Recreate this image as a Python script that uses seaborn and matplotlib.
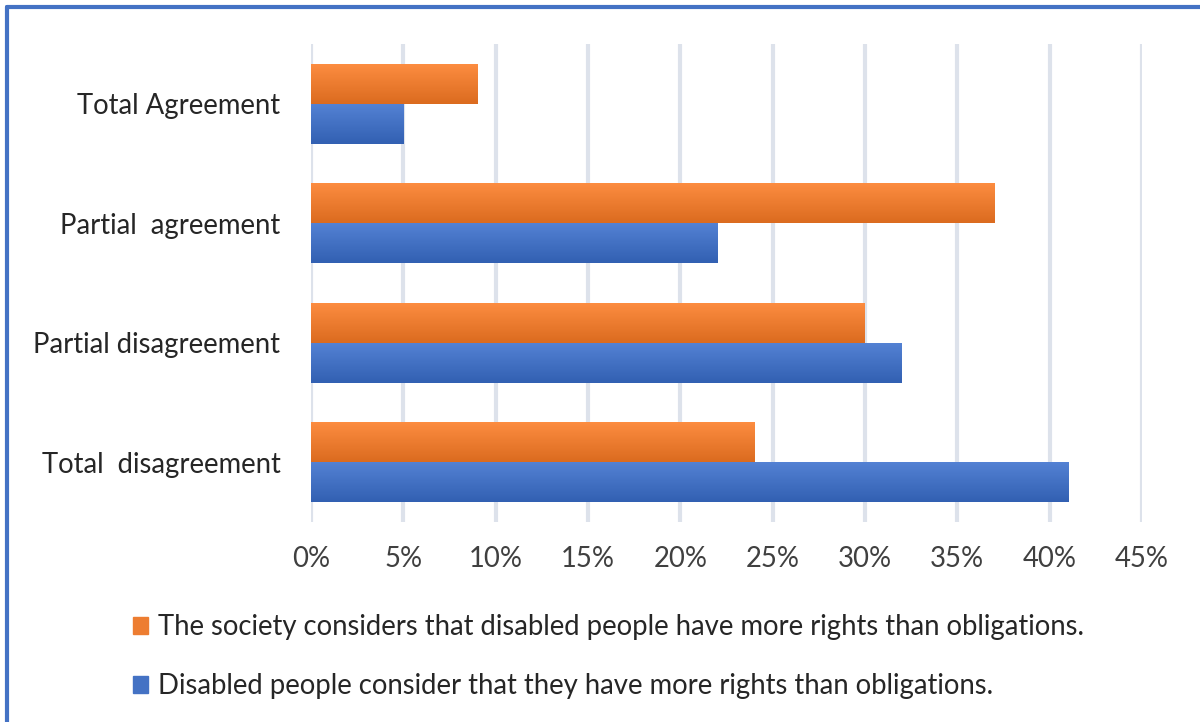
import matplotlib
matplotlib.use("Agg")
import matplotlib.pyplot as plt
from matplotlib.lines import Line2D
from matplotlib.patches import Rectangle
import seaborn as sns
import pandas as pd
import numpy as np

categories = ["Total Agreement", "Partial  agreement", "Partial disagreement", "Total  disagreement"]
series_names = [
    "The society considers that disabled people have more rights than obligations.",
    "Disabled people consider that they have more rights than obligations.",
]
society_values = [9, 37, 30, 24]
disabled_values = [5, 22, 32, 41]
x_ticks = [0, 5, 10, 15, 20, 25, 30, 35, 40, 45]
x_tick_labels = ["0%", "5%", "10%", "15%", "20%", "25%", "30%", "35%", "40%", "45%"]

colors = ["#ED7D31", "#4472C4"]

df = pd.DataFrame({
    "category": categories * 2,
    "series": [series_names[0]] * 4 + [series_names[1]] * 4,
    "value": society_values + disabled_values,
})

sns.set_theme(style="white")
plt.rcParams["font.family"] = ["Lato", "DejaVu Sans"]
FS = 19.8

fig = plt.figure(figsize=(12, 7.22), dpi=100)
ax = fig.add_axes([311 / 1200, 1 - 522 / 722, (1142 - 311) / 1200, (522 - 44) / 722])

sns.barplot(data=df, y="category", x="value", hue="series", order=categories,
            hue_order=series_names, palette=colors, orient="h", width=0.667,
            saturation=1, ax=ax, legend=True, zorder=3)

ax.set_xlim(0, 45)
ax.set_xticks(x_ticks)
ax.set_xticklabels(x_tick_labels, fontsize=FS, color="#404040")
ax.tick_params(axis="x", length=0, pad=17)
ax.tick_params(axis="y", length=0, pad=22, labelsize=FS, labelcolor="#262626")
ax.set_xlabel("")
ax.set_ylabel("")
for s in ax.spines.values():
    s.set_visible(False)
ax.grid(axis="x", color="#DDE2EB", linewidth=3, zorder=0)
ax.set_axisbelow(True)

# subtle vertical gradient on bars (Excel style)
for bar in ax.patches:
    x0, y0 = bar.get_x(), bar.get_y()
    w, h = bar.get_width(), bar.get_height()
    if w <= 0:
        continue
    bar.set_edgecolor("none")
    grad = np.linspace(0, 1, 50).reshape(-1, 1)
    base = np.array(matplotlib.colors.to_rgb(bar.get_facecolor()))
    top = np.clip(base + 0.06, 0, 1)
    bot = np.clip(base - 0.07, 0, 1)
    img = top[None, None, :] * (1 - grad[..., None]) + bot[None, None, :] * grad[..., None]
    im = ax.imshow(img, extent=[x0, x0 + w, y0 + h, y0], aspect="auto", zorder=4,
                   origin="upper")
    im.set_clip_path(bar)
ax.set_xlim(0, 45)
ax.set_ylim(len(categories) - 0.5, -0.5)

ax.legend_.remove()
handles = [Rectangle((0, 0), 1, 1, color=c) for c in colors]
fig.legend(handles, series_names, loc="upper left", bbox_to_anchor=(122 / 1200, 1 - 603 / 722),
           frameon=False, fontsize=FS, handlelength=0.55, handleheight=0.55,
           handletextpad=0.35, labelspacing=1.2, borderaxespad=0, labelcolor="#262626")

# figure border (top and left)
fig.add_artist(Line2D([7 / 1200, 1], [1 - 7 / 722, 1 - 7 / 722], color="#4472C4", linewidth=3,
                      transform=fig.transFigure))
fig.add_artist(Line2D([7 / 1200, 7 / 1200], [0, 1 - 7 / 722], color="#4472C4", linewidth=3,
                      transform=fig.transFigure))

fig.savefig("out.png", dpi=100)
